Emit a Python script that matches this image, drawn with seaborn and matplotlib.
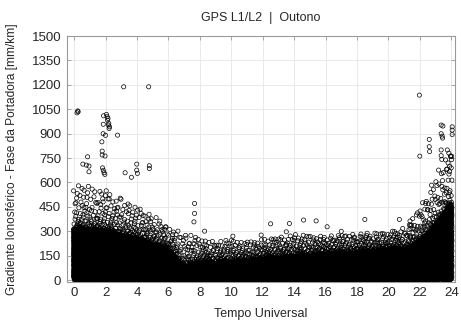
import numpy as np
import pandas as pd
import matplotlib
matplotlib.use("Agg")
import matplotlib.pyplot as plt
import seaborn as sns

# ---- data ----
title = "GPS L1/L2  |  Outono"
xlabel = "Tempo Universal"
ylabel = "Gradiente Ionosférico - Fase da Portadora [mm/km]"
x_ticks = list(range(0, 25, 2))
y_ticks = list(range(0, 1501, 150))

# upper edge of the solid (saturated) cloud, every half hour 0..24
env_hours = np.arange(0, 24.01, 0.5)
dense_top = [310, 320, 305, 310, 300, 295, 270, 265, 250, 240, 215, 205, 185,
             130, 75, 95, 100, 110, 100, 110, 105, 115, 110, 120, 125, 135,
             130, 140, 140, 150, 145, 155, 155, 165, 160, 160, 165, 175, 170,
             180, 180, 190, 185, 205, 240, 280, 340, 400, 470]
# upper edge of the sparse fringe, every hour 0..24
fringe_hours = np.arange(0, 25, 1)
fringe_top = [600, 580, 560, 500, 460, 400, 330, 290, 260, 240, 250, 240, 250,
              270, 280, 280, 270, 280, 290, 290, 300, 320, 450, 650, 800]

# isolated high values
out_x = [0.18, 0.22, 0.25, 3.15, 4.74, 21.97,
         2.05, 2.10, 2.15, 2.12, 2.20, 2.18, 2.25, 2.22, 1.87, 1.85, 2.76,
         1.84, 1.99, 1.76, 1.78, 1.78, 1.96, 0.85, 0.55, 0.77, 0.94, 0.94,
         1.80, 1.85, 1.90, 1.95, 3.98, 3.98, 4.02, 4.78, 4.78, 3.24, 3.64,
         7.66, 7.66, 7.62, 12.5, 13.7, 14.6, 15.4, 16.1, 8.3, 10.1, 11.9,
         13.5, 18.5, 20.7, 21.4, 17.0,
         22.0, 22.6, 22.6, 22.62, 23.36, 23.47, 23.36, 23.42, 23.45, 24.06,
         24.06, 23.36, 23.36, 23.40, 24.06, 23.75, 23.85, 23.95, 24.02, 23.8,
         23.9, 24.0, 23.7]
out_y = [1028, 1040, 1035, 1188, 1188, 1137,
         1018, 1004, 994, 983, 963, 953, 942, 932, 1010, 958, 891,
         900, 890, 850, 793, 769, 763, 758, 713, 707, 701, 666,
         690, 675, 660, 650, 713, 676, 656, 703, 686, 660, 632,
         471, 410, 358, 346, 348, 369, 364, 328, 301, 270, 277,
         297, 373, 373, 338, 300,
         762, 865, 820, 790, 953, 947, 900, 885, 873, 942,
         922, 800, 765, 742, 895, 800, 780, 760, 740, 720,
         700, 690, 680]


def halton(n, base, skip=20):
    idx = np.arange(skip + 1, skip + n + 1)
    res = np.zeros(n)
    f = 1.0
    k = idx.copy()
    while np.any(k > 0):
        f /= base
        res += f * (k % base)
        k //= base
    return res


def dense_at(x):
    return np.interp(x, env_hours, dense_top)


def fringe_at(x):
    return np.interp(x, fringe_hours, fringe_top)


# dense cloud: fills the area under the read envelope
n_dense = 24000
xd = -0.05 + halton(n_dense, 2) * 24.1
yd = halton(n_dense, 3) * dense_at(xd)

# sparse fringe between the two read envelopes
n_sp = 1600
xs = -0.05 + halton(n_sp, 2, skip=5000) * 24.1
ws = halton(n_sp, 5, skip=5000)
ys = dense_at(xs) + (ws ** 2.6) * (fringe_at(xs) - dense_at(xs))

df = pd.DataFrame({
    "x": np.concatenate([xd, xs, out_x]),
    "y": np.concatenate([yd, ys, out_y]),
})

# ---- plot ----
sns.set_theme(style="white")
plt.rcParams["font.family"] = ["Liberation Sans", "DejaVu Sans"]

fig = plt.figure(figsize=(4.61, 3.22), dpi=100)
ax = fig.add_axes([0.145, 0.125, 0.843, 0.763])

sns.scatterplot(data=df, x="x", y="y", ax=ax, marker="o", s=9,
                facecolors="none", edgecolors="black", linewidth=0.5,
                legend=False, zorder=3)

ax.set_xlim(-0.47, 24.27)
ax.set_ylim(-10, 1500)
ax.set_xticks(x_ticks)
ax.set_yticks(y_ticks)
ax.grid(True, color="#e6e6e6", linewidth=0.6, linestyle="-")
ax.set_axisbelow(True)
for sp in ax.spines.values():
    sp.set_color("#9a9a9a")
    sp.set_linewidth(0.8)
ax.tick_params(axis="both", direction="in", length=3, width=0.6,
               color="#9a9a9a", labelsize=9.5, pad=4,
               top=True, right=True, bottom=True, left=True)
ax.set_title(title, fontsize=9, pad=11)
ax.set_xlabel(xlabel, fontsize=9, labelpad=6)
ax.set_ylabel(ylabel, fontsize=8.6, labelpad=10)

fig.savefig("out.png", dpi=100, facecolor="white")
